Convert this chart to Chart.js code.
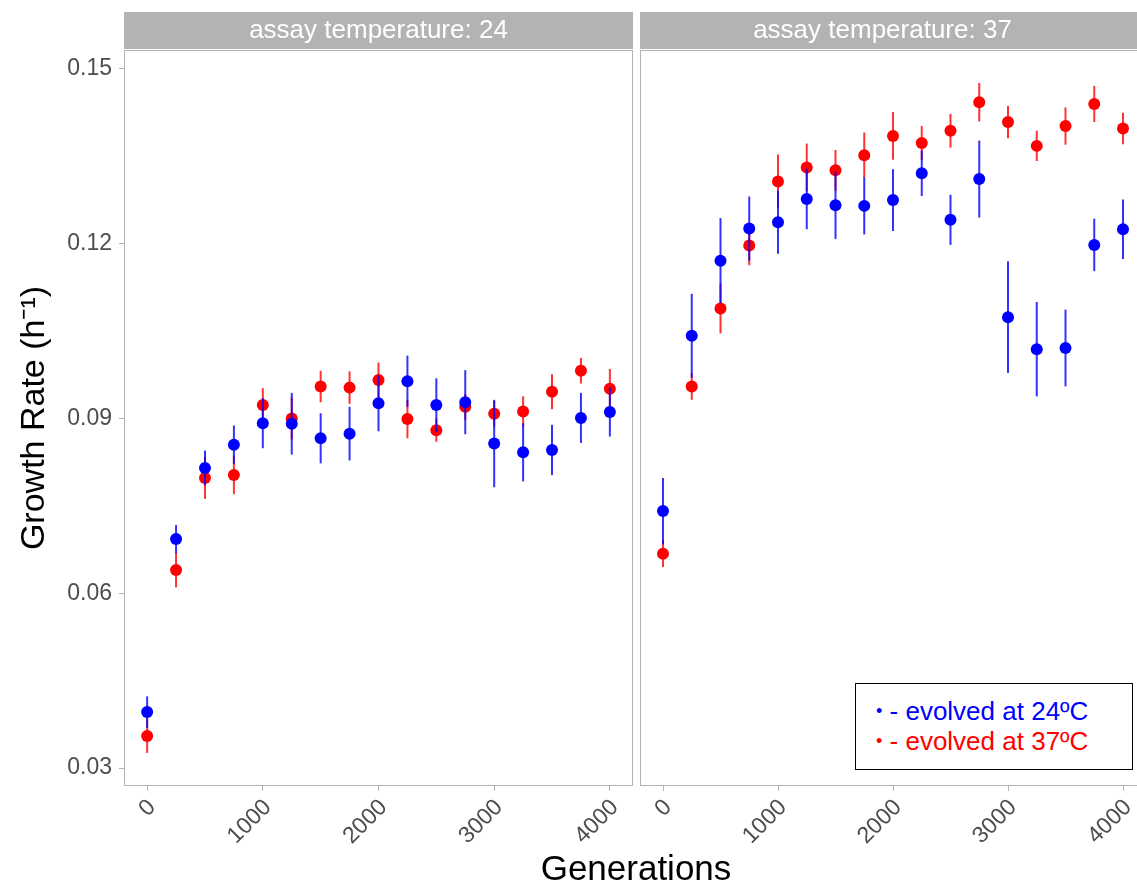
<!DOCTYPE html>
<html>
<head>
<meta charset="utf-8">
<script src="https://cdn.jsdelivr.net/npm/chart.js@4.4.1/dist/chart.umd.min.js"></script>
<style>
  html, body { margin:0; padding:0; background:#fff; }
  body { width:1137px; height:885px; overflow:hidden; position:relative; font-family:"Liberation Sans", Arial, sans-serif; }
  canvas { position:absolute; top:0; }
  #xtitle { position:absolute; left:386px; width:500px; top:847px; text-align:center; font-size:35px; color:#000; line-height:42px; }
  #legend { position:absolute; left:855px; top:683px; width:278px; height:87px; box-sizing:border-box; border:1.5px solid #000; background:#fff; font-size:26px; line-height:30px; padding:12px 0 0 20px; white-space:nowrap; }
  #legend .dot { font-size:18px; vertical-align:3px; }
  #legend .b { color:#0000ff; } #legend .r { color:#ff0000; }
</style>
</head>
<body>
<canvas id="c1" width="640" height="885" style="left:0;width:640px;height:885px"></canvas>
<canvas id="c2" width="520" height="885" style="left:632px;width:520px;height:885px"></canvas>
<div id="xtitle">Generations</div>
<div id="legend"><div class="b"><span class="dot">•</span> - evolved at 24ºC</div><div class="r"><span class="dot">•</span> - evolved at 37ºC</div></div>
<script>
// ---- data ----
const generations = [0,250,500,750,1000,1250,1500,1750,2000,2250,2500,2750,3000,3250,3500,3750,4000];
const panelTitles = ["assay temperature: 24", "assay temperature: 37"];
const seriesNames = ["evolved at 24ºC", "evolved at 37ºC"];
const xTicks = [0,1000,2000,3000,4000];
const yTicks = [0.03,0.06,0.09,0.12,0.15];
const yTickLabels = ["0.03","0.06","0.09","0.12","0.15"];

// assay 24
const a24_evo24 = [0.0396,0.0693,0.0815,0.0855,0.0892,0.0891,0.0866,0.0874,0.0926,0.0964,0.0923,0.0928,0.0857,0.0842,0.0846,0.0901,0.0911];
const a24_evo24_err = [0.0027,0.0024,0.0030,0.0033,0.0043,0.0053,0.0043,0.0046,0.0048,0.0044,0.0046,0.0055,0.0075,0.0050,0.0043,0.0043,0.0042];
const a24_evo37 = [0.0355,0.0640,0.0798,0.0803,0.0923,0.0900,0.0955,0.0953,0.0966,0.0899,0.0880,0.0920,0.0908,0.0912,0.0946,0.0982,0.0951];
const a24_evo37_err = [0.0029,0.0030,0.0036,0.0033,0.0029,0.0036,0.0027,0.0028,0.0030,0.0033,0.0020,0.0022,0.0022,0.0026,0.0030,0.0022,0.0034];
// assay 37
const a37_evo24 = [0.0741,0.1042,0.1171,0.1226,0.1237,0.1277,0.1266,0.1265,0.1275,0.1321,0.1241,0.1311,0.1074,0.1019,0.1021,0.1198,0.1225];
const a37_evo24_err = [0.0057,0.0072,0.0073,0.0055,0.0054,0.0052,0.0058,0.0049,0.0053,0.0039,0.0043,0.0066,0.0096,0.0081,0.0066,0.0045,0.0051];
const a37_evo37 = [0.0668,0.0955,0.1089,0.1197,0.1307,0.1331,0.1326,0.1352,0.1385,0.1373,0.1394,0.1443,0.1409,0.1368,0.1402,0.1440,0.1398];
const a37_evo37_err = [0.0023,0.0023,0.0043,0.0034,0.0046,0.0041,0.0035,0.0039,0.0041,0.0029,0.0029,0.0033,0.0028,0.0026,0.0032,0.0031,0.0027];

const X_MIN = -200, X_MAX = 4200, Y_MIN = 0.02691, Y_MAX = 0.15326;
const FONT = "'Liberation Sans', Arial, sans-serif";
const GREY = '#b3b3b3';
const BLUE = '#0000ff', RED = '#ff0000';
const BLUE_BAR = 'rgba(0,0,255,0.8)', RED_BAR = 'rgba(255,0,0,0.8)';

const errorBarPlugin = {
  id: 'errorBars',
  beforeDatasetDraw(chart, args) {
    const ds = chart.data.datasets[args.index];
    if (!ds.errors) return;
    const xs = chart.scales.x, ys = chart.scales.y;
    const ctx = chart.ctx;
    ctx.save();
    ctx.strokeStyle = ds.barColor;
    ctx.lineWidth = 2;
    ds.data.forEach((p, i) => {
      const px = xs.getPixelForValue(p.x);
      ctx.beginPath();
      ctx.moveTo(px, ys.getPixelForValue(p.y - ds.errors[i]));
      ctx.lineTo(px, ys.getPixelForValue(p.y + ds.errors[i]));
      ctx.stroke();
    });
    ctx.restore();
  }
};

const panelPlugin = {
  id: 'panel',
  beforeDatasetsDraw(chart) {
    const a = chart.chartArea, ctx = chart.ctx;
    ctx.save();
    ctx.strokeStyle = GREY;
    ctx.lineWidth = 1;
    ctx.strokeRect(Math.round(a.left) + 0.5, Math.round(a.top) + 0.5, Math.round(a.right - a.left) - 1, Math.round(a.bottom - a.top) - 1);
    ctx.restore();
  },
  afterDraw(chart) {
    const a = chart.chartArea, ctx = chart.ctx;
    const opts = chart.options.plugins.panel;
    ctx.save();
    ctx.fillStyle = GREY;
    ctx.fillRect(a.left, 12, a.right - a.left, 37);
    ctx.fillStyle = '#ffffff';
    ctx.font = '26px ' + FONT;
    ctx.textAlign = 'center';
    ctx.textBaseline = 'middle';
    ctx.fillText(opts.title, opts.cx !== undefined ? opts.cx : (a.left + a.right) / 2, 31);
    ctx.restore();
  }
};

function makeChart(canvasId, title, evo24, evo24err, evo37, evo37err, yWidth, padding, cx) {
  const pts = arr => generations.map((g, i) => ({ x: g, y: arr[i] }));
  const showY = yWidth > 0;
  return new Chart(document.getElementById(canvasId), {
    type: 'scatter',
    data: {
      datasets: [
        { label: seriesNames[0], data: pts(evo24), errors: evo24err, barColor: BLUE_BAR,
          backgroundColor: BLUE, borderWidth: 0, pointRadius: 6, pointHoverRadius: 6 },
        { label: seriesNames[1], data: pts(evo37), errors: evo37err, barColor: RED_BAR,
          backgroundColor: RED, borderWidth: 0, pointRadius: 6, pointHoverRadius: 6 }
      ]
    },
    options: {
      responsive: false,
      animation: false,
      events: [],
      layout: { padding: padding },
      plugins: { legend: { display: false }, tooltip: { enabled: false }, panel: { title: title, cx: cx } },
      scales: {
        x: {
          type: 'linear', min: X_MIN, max: X_MAX,
          afterBuildTicks: s => { s.ticks = xTicks.map(v => ({ value: v })); },
          afterFit: s => { s.height = 99; },
          grid: { display: true, drawOnChartArea: false, drawTicks: true, tickLength: 5, color: GREY, lineWidth: 1 },
          border: { display: false },
          ticks: { minRotation: 45, maxRotation: 45, padding: 3, labelOffset: 5, color: '#4d4d4d', font: { family: FONT, size: 23 },
                   callback: v => String(v) }
        },
        y: {
          type: 'linear', min: Y_MIN, max: Y_MAX,
          afterBuildTicks: s => { s.ticks = yTicks.map(v => ({ value: v })); },
          afterFit: s => { s.width = yWidth; },
          grid: { display: showY, drawOnChartArea: false, drawTicks: true, tickLength: 5, color: GREY, lineWidth: 1 },
          border: { display: false },
          ticks: { display: showY, padding: 7, color: '#4d4d4d', font: { family: FONT, size: 23 },
                   callback: (v, i) => yTickLabels[i] },
          title: { display: showY, text: 'Growth Rate (h⁻¹)', color: '#000', font: { family: FONT, size: 34 }, padding: { top: 14, bottom: 0 } }
        }
      }
    },
    plugins: [errorBarPlugin, panelPlugin]
  });
}

makeChart('c1', panelTitles[0], a24_evo24, a24_evo24_err, a24_evo37, a24_evo37_err, 124, { left: 0, right: 7, top: 50, bottom: 0 });
makeChart('c2', panelTitles[1], a37_evo24, a37_evo24_err, a37_evo37, a37_evo37_err, 0, { left: 8, right: 3, top: 50, bottom: 0 }, 250.5);
</script>
</body>
</html>
